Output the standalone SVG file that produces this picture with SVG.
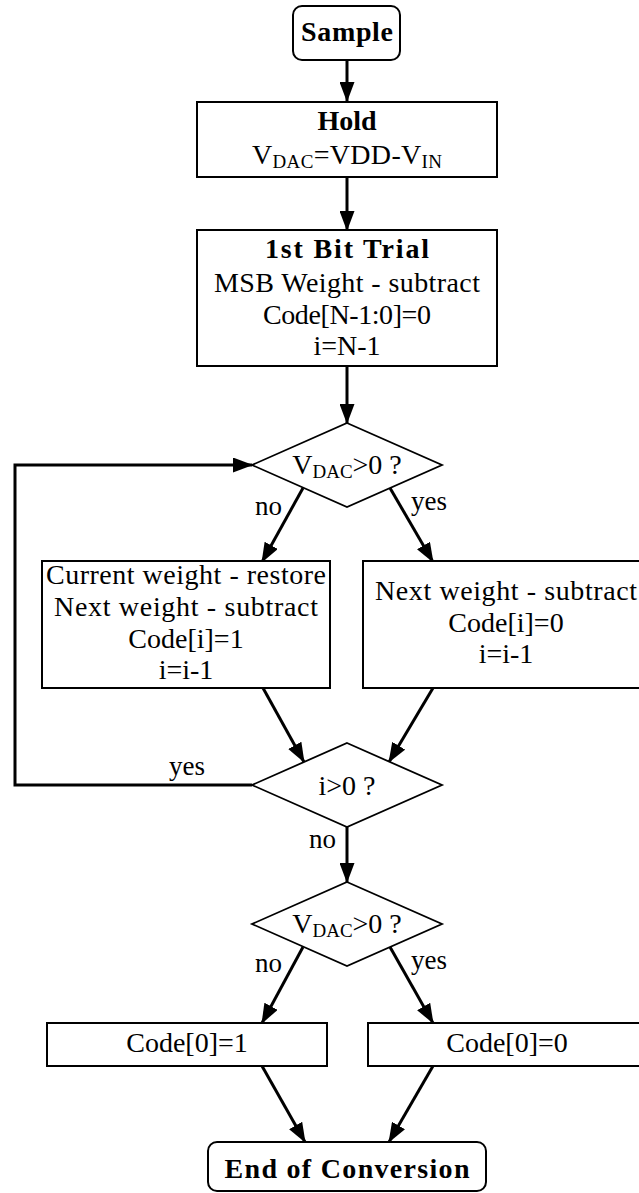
<svg xmlns="http://www.w3.org/2000/svg" width="639" height="1193" viewBox="0 0 639 1193">
<style>
.box{fill:#fff;stroke:#000;stroke-width:2}
.dia{fill:#fff;stroke:#000;stroke-width:1.8}
.t{font-family:"Liberation Serif","Times New Roman",serif;font-size:28px;fill:#000;text-anchor:middle}
.b{font-weight:bold}
.lbl{font-family:"Liberation Serif","Times New Roman",serif;font-size:27px;fill:#000}
.sub{font-size:19px}
.c{fill:none;stroke:#000;stroke-width:3}
</style>
<defs>
<marker id="ah" markerUnits="userSpaceOnUse" markerWidth="20" markerHeight="15" refX="19" refY="7.5" orient="auto">
<path d="M0,0 L20,7.5 L0,15 z" fill="#000"/>
</marker>
</defs>
<g id="connectors">
<line class="c" x1="347" y1="60" x2="347" y2="101" marker-end="url(#ah)"/>
<line class="c" x1="347" y1="177" x2="347" y2="230" marker-end="url(#ah)"/>
<line class="c" x1="347" y1="366" x2="347" y2="423" marker-end="url(#ah)"/>
<line class="c" x1="303" y1="488" x2="262" y2="562" marker-end="url(#ah)"/>
<line class="c" x1="390" y1="488" x2="433" y2="562" marker-end="url(#ah)"/>
<line class="c" x1="263" y1="688" x2="304" y2="762" marker-end="url(#ah)"/>
<line class="c" x1="433" y1="688" x2="389" y2="762" marker-end="url(#ah)"/>
<polyline class="c" points="252,785 15,785 15,465 252,465" marker-end="url(#ah)"/>
<line class="c" x1="347" y1="827" x2="347" y2="882" marker-end="url(#ah)"/>
<line class="c" x1="303" y1="947" x2="262" y2="1023" marker-end="url(#ah)"/>
<line class="c" x1="390" y1="947" x2="433" y2="1023" marker-end="url(#ah)"/>
<line class="c" x1="262" y1="1066" x2="305" y2="1142" marker-end="url(#ah)"/>
<line class="c" x1="433" y1="1066" x2="389" y2="1142" marker-end="url(#ah)"/>
<text class="lbl" x="255" y="515">no</text>
<text class="lbl" x="411" y="510">yes</text>
<text class="lbl" x="169" y="775">yes</text>
<text class="lbl" x="309" y="848">no</text>
<text class="lbl" x="255" y="972">no</text>
<text class="lbl" x="411" y="969">yes</text>
</g>
<g id="sample">
<rect class="box" x="293" y="6" width="107" height="54" rx="9"/>
<text class="t b" x="347" y="41" textLength="92">Sample</text>
</g>
<g id="hold">
<rect class="box" x="197" y="102" width="300" height="75"/>
<text class="t b" x="347" y="130">Hold</text>
<text class="t" x="347" y="164" textLength="190">V<tspan class="sub" dy="4">DAC</tspan><tspan dy="-4">=VDD-V</tspan><tspan class="sub" dy="4">IN</tspan></text>
</g>
<g id="first-bit">
<rect class="box" x="197" y="230" width="300" height="136"/>
<text class="t b" x="347" y="258" textLength="164">1st Bit Trial</text>
<text class="t" x="347" y="292" textLength="266">MSB Weight - subtract</text>
<text class="t" x="347" y="324" textLength="168">Code[N-1:0]=0</text>
<text class="t" x="347" y="355">i=N-1</text>
</g>
<g id="cmp1">
<polygon class="dia" points="347,423 442,465 347,507 252,465"/>
<text class="t" x="347" y="474">V<tspan class="sub" dy="4">DAC</tspan><tspan dy="-4">&gt;0 ?</tspan></text>
</g>
<g id="restore">
<rect class="box" x="42" y="561" width="288" height="127"/>
<text class="t" x="186" y="584" textLength="280">Current weight - restore</text>
<text class="t" x="186" y="616" textLength="264">Next weight - subtract</text>
<text class="t" x="186" y="648">Code[i]=1</text>
<text class="t" x="186" y="679">i=i-1</text>
</g>
<g id="keep">
<rect class="box" x="363" y="561" width="290" height="127"/>
<text class="t" x="506" y="600" textLength="262">Next weight - subtract</text>
<text class="t" x="506" y="632">Code[i]=0</text>
<text class="t" x="506" y="663">i=i-1</text>
</g>
<g id="cmp2">
<polygon class="dia" points="347,743 442,785 347,827 252,785"/>
<text class="t" x="347" y="795">i&gt;0 ?</text>
</g>
<g id="cmp3">
<polygon class="dia" points="347,882 442,924 347,966 252,924"/>
<text class="t" x="347" y="933">V<tspan class="sub" dy="4">DAC</tspan><tspan dy="-4">&gt;0 ?</tspan></text>
</g>
<g id="code1">
<rect class="box" x="47" y="1023" width="280" height="43"/>
<text class="t" x="187" y="1052">Code[0]=1</text>
</g>
<g id="code0">
<rect class="box" x="368" y="1023" width="280" height="43"/>
<text class="t" x="507" y="1052">Code[0]=0</text>
</g>
<g id="end">
<rect class="box" x="208" y="1142" width="278" height="49" rx="9"/>
<text class="t b" x="347" y="1178" textLength="245">End of Conversion</text>
</g>
</svg>
